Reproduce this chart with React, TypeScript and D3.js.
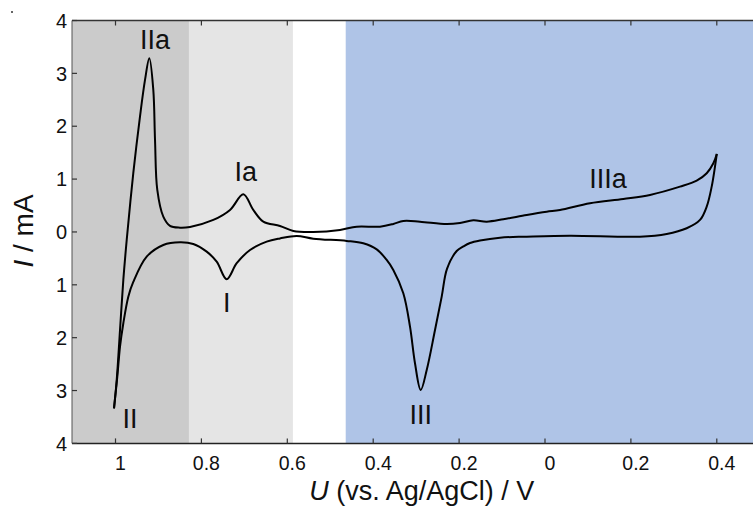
import React from "react";
import * as d3 from "d3";

// Upper (anodic) branch: potential (V) and current (mA), from right tip to left
const upperV = [-0.400, -0.392, -0.3765, -0.3532, -0.3143, -0.2445, -0.1823, -0.1048, -0.0349, -0.004, 0.0426, 0.0971, 0.1357, 0.1669, 0.1979, 0.2289, 0.291, 0.3299, 0.3532, 0.3842, 0.4384, 0.4773, 0.5395, 0.586, 0.617, 0.6559, 0.6792, 0.7024, 0.7334, 0.7723, 0.8265, 0.8498, 0.8731, 0.8887, 0.9027, 0.908, 0.912, 0.9213, 0.9313, 0.943, 0.9586, 0.9739, 0.9818, 0.9895, 0.9972, 1.0035];
const upperI = [1.476, 1.3, 1.111, 0.971, 0.857, 0.7, 0.624, 0.543, 0.416, 0.384, 0.322, 0.24, 0.195, 0.22, 0.17, 0.151, 0.195, 0.208, 0.151, 0.1, 0.1, 0.038, 0.0, 0.019, 0.114, 0.195, 0.416, 0.713, 0.416, 0.227, 0.095, 0.081, 0.114, 0.289, 0.795, 1.741, 2.687, 3.287, 2.876, 2.182, 1.111, -0.151, -0.908, -1.854, -2.8, -3.336];

// Lower (cathodic) branch: from left tip to right tip
const lowerV = [1.0035, 0.9958, 0.9895, 0.9818, 0.9702, 0.9586, 0.9274, 0.8887, 0.8498, 0.8189, 0.7877, 0.7644, 0.7411, 0.7178, 0.6868, 0.648, 0.617, 0.5781, 0.5395, 0.4617, 0.4231, 0.3918, 0.3686, 0.3532, 0.3299, 0.3143, 0.3027, 0.2894, 0.2754, 0.2561, 0.2405, 0.2282, 0.2056, 0.1902, 0.1746, 0.1513, 0.1048, 0.0426, -0.0582, -0.2212, -0.2834, -0.3299, -0.3609, -0.3765, -0.3881, -0.3958, -0.400];
const lowerI = [-3.336, -2.738, -2.17, -1.727, -1.224, -0.946, -0.467, -0.246, -0.195, -0.227, -0.373, -0.562, -0.895, -0.592, -0.341, -0.184, -0.123, -0.076, -0.127, -0.17, -0.215, -0.33, -0.53, -0.719, -1.16, -1.792, -2.484, -2.99, -2.611, -1.854, -1.224, -0.7, -0.36, -0.274, -0.208, -0.161, -0.108, -0.089, -0.07, -0.089, -0.038, 0.07, 0.227, 0.479, 0.857, 1.236, 1.476];

const xTicks = [1, 0.8, 0.6, 0.4, 0.2, 0, -0.2, -0.4];
const yTicks = [4, 3, 2, 1, 0, -1, -2, -3, -4];

// Shaded potential regions [from, to]
const regionFrom = [1.1013, 0.829, 0.464];
const regionTo = [0.829, 0.587, -0.4843];
const regionColors = ["#cbcbcb", "#e5e5e5", "#afc4e7"];

// Peak annotations (data coordinates)
const peakNames = ["IIa", "Ia", "I", "II", "III", "IIIa"];
const peakV = [0.908, 0.697, 0.741, 0.966, 0.289, -0.147];
const peakI = [3.46, 0.965, -1.514, -3.709, -3.633, 0.833];

const W = 753;
const H = 506;
const left = 72;
const right = 753;
const top = 20.5;
const bottom = 443.4;
const font = "'Liberation Sans', Arial, Helvetica, sans-serif";

export default function App() {
  const x = d3.scaleLinear().domain([1.1013, -0.4843]).range([left, right]);
  const y = d3.scaleLinear().domain([-4, 4]).range([bottom, top]);
  const line = d3
    .line<[number, number]>()
    .x((d) => x(d[0]))
    .y((d) => y(d[1]))
    .curve(d3.curveCatmullRom.alpha(0.5));

  const upper: [number, number][] = upperV.map((v, i) => [v, upperI[i]]);
  const lower: [number, number][] = lowerV.map((v, i) => [v, lowerI[i]]);
  const fmt = (v: number) => String(Math.abs(Math.round(v * 10) / 10));

  return (
    <svg
      width={W}
      height={H}
      style={{ position: "absolute", left: 0, top: 0, background: "#fff" }}
      fontFamily={font}
    >
      {regionFrom.map((f, i) => (
        <rect
          key={"r" + i}
          x={x(f)}
          y={top}
          width={x(regionTo[i]) - x(f)}
          height={bottom - top}
          fill={regionColors[i]}
        />
      ))}
      <circle cx={12} cy={12} r={1} fill="#333" />
      {/* frame */}
      <line x1={left} x2={right} y1={top} y2={top} stroke="#333" strokeWidth={1.3} />
      <line x1={left} x2={right} y1={bottom} y2={bottom} stroke="#222" strokeWidth={1.5} />
      <line x1={left} x2={left} y1={top} y2={bottom} stroke="#555" strokeWidth={1} />
      {/* x ticks */}
      {xTicks.map((t) => (
        <g key={"x" + t}>
          <line x1={x(t)} x2={x(t)} y1={bottom} y2={bottom - 5} stroke="#333" strokeWidth={1.2} />
          <line x1={x(t)} x2={x(t)} y1={top} y2={top + 5} stroke="#333" strokeWidth={1.2} />
          <text x={x(t) + 5} y={469.5} textAnchor="middle" fontSize={19.5} fill="#111">
            {fmt(t)}
          </text>
        </g>
      ))}
      {/* y ticks */}
      {yTicks.map((t) => (
        <g key={"y" + t}>
          <line x1={left} x2={left + 5} y1={y(t)} y2={y(t)} stroke="#333" strokeWidth={1.2} />
          <text x={67} y={y(t)} dy="0.36em" textAnchor="end" fontSize={20} fill="#111">
            {fmt(t)}
          </text>
        </g>
      ))}
      {/* curves */}
      <path d={line(upper) || ""} fill="none" stroke="#000" strokeWidth={2} strokeLinejoin="round" />
      <path d={line(lower) || ""} fill="none" stroke="#000" strokeWidth={2} strokeLinejoin="round" />
      {/* peak labels */}
      {peakNames.map((n, i) => (
        <text key={n} x={x(peakV[i])} y={y(peakI[i])} textAnchor="middle" fontSize={27} fill="#111">
          {n}
        </text>
      ))}
      {/* axis titles */}
      <text x={421.7} y={499.5} textAnchor="middle" fontSize={27} fill="#111">
        <tspan fontStyle="italic">U</tspan> (vs. Ag/AgCl) / V
      </text>
      <text transform="translate(33,231) rotate(-90)" textAnchor="middle" fontSize={28} fill="#111">
        <tspan fontStyle="italic">I</tspan> / mA
      </text>
    </svg>
  );
}
